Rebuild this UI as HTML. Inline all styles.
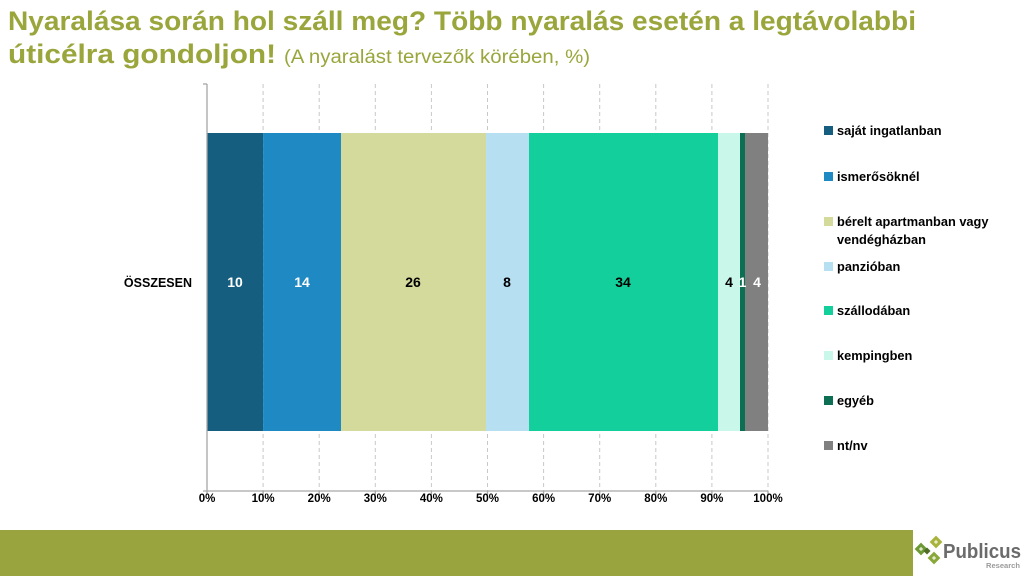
<!DOCTYPE html>
<html><head><meta charset="utf-8"><style>
html,body{margin:0;padding:0;background:#fff;}
svg{display:block;}
text{font-family:"Liberation Sans",sans-serif;}
</style></head><body>
<svg width="1024" height="576" viewBox="0 0 1024 576" xmlns="http://www.w3.org/2000/svg">
<rect width="1024" height="576" fill="#fff"/>
<!-- Title -->
<text x="8" y="30" font-size="27" font-weight="bold" fill="#9aa63c" textLength="908" lengthAdjust="spacingAndGlyphs">Nyaralása során hol száll meg? Több nyaralás esetén a legtávolabbi</text>
<text x="8" y="63" font-size="27" font-weight="bold" fill="#9aa63c" textLength="268" lengthAdjust="spacingAndGlyphs">úticélra gondoljon!</text>
<text x="284" y="63" font-size="19" fill="#9aa63c" textLength="306" lengthAdjust="spacingAndGlyphs">(A nyaralást tervezők körében, %)</text>

<!-- gridlines -->
<g stroke="#c8c8c8" stroke-width="1" stroke-dasharray="4,3">
<line x1="263.1" y1="84" x2="263.1" y2="491"/>
<line x1="319.2" y1="84" x2="319.2" y2="491"/>
<line x1="375.3" y1="84" x2="375.3" y2="491"/>
<line x1="431.4" y1="84" x2="431.4" y2="491"/>
<line x1="487.5" y1="84" x2="487.5" y2="491"/>
<line x1="543.6" y1="84" x2="543.6" y2="491"/>
<line x1="599.7" y1="84" x2="599.7" y2="491"/>
<line x1="655.8" y1="84" x2="655.8" y2="491"/>
<line x1="711.9" y1="84" x2="711.9" y2="491"/>
<line x1="768" y1="84" x2="768" y2="491"/>
</g>

<!-- bars -->
<rect x="207" y="133" width="56.1" height="298" fill="#165e80"/>
<rect x="263.1" y="133" width="77.9" height="298" fill="#1f89c4"/>
<rect x="341" y="133" width="145" height="298" fill="#d4da9c"/>
<rect x="486" y="133" width="43" height="298" fill="#b7dff2"/>
<rect x="529" y="133" width="189" height="298" fill="#13cf9b"/>
<rect x="718" y="133" width="22" height="298" fill="#c9f7ea"/>
<rect x="740" y="133" width="5" height="298" fill="#0c6e52"/>
<rect x="745" y="133" width="23" height="298" fill="#808080"/>

<!-- axes -->
<g stroke="#a6a6a6" stroke-width="1.3">
<line x1="207" y1="84" x2="207" y2="491"/>
<line x1="203" y1="84" x2="207" y2="84"/>
<line x1="203" y1="491" x2="768" y2="491"/>
<line x1="207" y1="491" x2="207" y2="495"/>
<line x1="263.1" y1="491" x2="263.1" y2="495"/>
<line x1="319.2" y1="491" x2="319.2" y2="495"/>
<line x1="375.3" y1="491" x2="375.3" y2="495"/>
<line x1="431.4" y1="491" x2="431.4" y2="495"/>
<line x1="487.5" y1="491" x2="487.5" y2="495"/>
<line x1="543.6" y1="491" x2="543.6" y2="495"/>
<line x1="599.7" y1="491" x2="599.7" y2="495"/>
<line x1="655.8" y1="491" x2="655.8" y2="495"/>
<line x1="711.9" y1="491" x2="711.9" y2="495"/>
<line x1="768" y1="491" x2="768" y2="495"/>
</g>

<!-- tick labels -->
<g font-size="11.5" font-weight="bold" fill="#000" text-anchor="middle">
<text x="207" y="502">0%</text>
<text x="263.1" y="502">10%</text>
<text x="319.2" y="502">20%</text>
<text x="375.3" y="502">30%</text>
<text x="431.4" y="502">40%</text>
<text x="487.5" y="502">50%</text>
<text x="543.6" y="502">60%</text>
<text x="599.7" y="502">70%</text>
<text x="655.8" y="502">80%</text>
<text x="711.9" y="502">90%</text>
<text x="768" y="502">100%</text>
</g>

<!-- category label -->
<text x="192" y="287" font-size="12.5" font-weight="bold" fill="#000" text-anchor="end">ÖSSZESEN</text>

<!-- data labels -->
<g font-size="14" font-weight="bold" text-anchor="middle">
<text x="235" y="287" fill="#fff">10</text>
<text x="302" y="287" fill="#fff">14</text>
<text x="413" y="287" fill="#000">26</text>
<text x="507" y="287" fill="#000">8</text>
<text x="623" y="287" fill="#000">34</text>
<text x="729" y="287" fill="#000">4</text>
<text x="742.5" y="287" fill="#fff">1</text>
<text x="757" y="287" fill="#fff">4</text>
</g>

<!-- legend -->
<g font-size="12.8" font-weight="bold" fill="#000">
<rect x="824" y="126" width="9" height="9" fill="#165e80"/>
<text x="837" y="135">saját ingatlanban</text>
<rect x="824" y="172" width="9" height="9" fill="#1f89c4"/>
<text x="837" y="181">ismerősöknél</text>
<rect x="824" y="217" width="9" height="9" fill="#d4da9c"/>
<text x="837" y="226">bérelt apartmanban vagy</text>
<text x="837" y="244">vendégházban</text>
<rect x="824" y="262" width="9" height="9" fill="#b7dff2"/>
<text x="837" y="271">panzióban</text>
<rect x="824" y="306" width="9" height="9" fill="#13cf9b"/>
<text x="837" y="315">szállodában</text>
<rect x="824" y="351" width="9" height="9" fill="#c9f7ea"/>
<text x="837" y="360">kempingben</text>
<rect x="824" y="396" width="9" height="9" fill="#0c6e52"/>
<text x="837" y="405">egyéb</text>
<rect x="824" y="441" width="9" height="9" fill="#808080"/>
<text x="837" y="450">nt/nv</text>
</g>

<!-- footer bar -->
<rect x="0" y="530" width="913" height="46" fill="#9aa43f"/>

<!-- logo -->
<g>
<rect x="931.5" y="537.5" width="9" height="9" transform="rotate(45 936 542)" fill="#a8b43c"/>
<rect x="934.5" y="540.5" width="3" height="3" transform="rotate(45 936 542)" fill="#e8ecc8"/>
<rect x="916.5" y="544.5" width="9" height="9" transform="rotate(45 921 549)" fill="#6e9a35"/>
<rect x="919.5" y="547.5" width="3" height="3" transform="rotate(45 921 549)" fill="#dfe8cc"/>
<rect x="929.5" y="553.5" width="9" height="9" transform="rotate(45 934 558)" fill="#8aa83a"/>
<rect x="932.5" y="556.5" width="3" height="3" transform="rotate(45 934 558)" fill="#e3eacb"/>
<rect x="924.5" y="548.5" width="5" height="5" transform="rotate(45 927 551)" fill="#4f6e26"/>
<text x="943" y="558" font-size="20" font-weight="bold" fill="#6b6b6b" textLength="78" lengthAdjust="spacingAndGlyphs">Publicus</text>
<text x="986" y="568" font-size="7" font-weight="bold" fill="#9a9a9a" textLength="34" lengthAdjust="spacingAndGlyphs">Research</text>
</g>
</svg>
</body></html>
